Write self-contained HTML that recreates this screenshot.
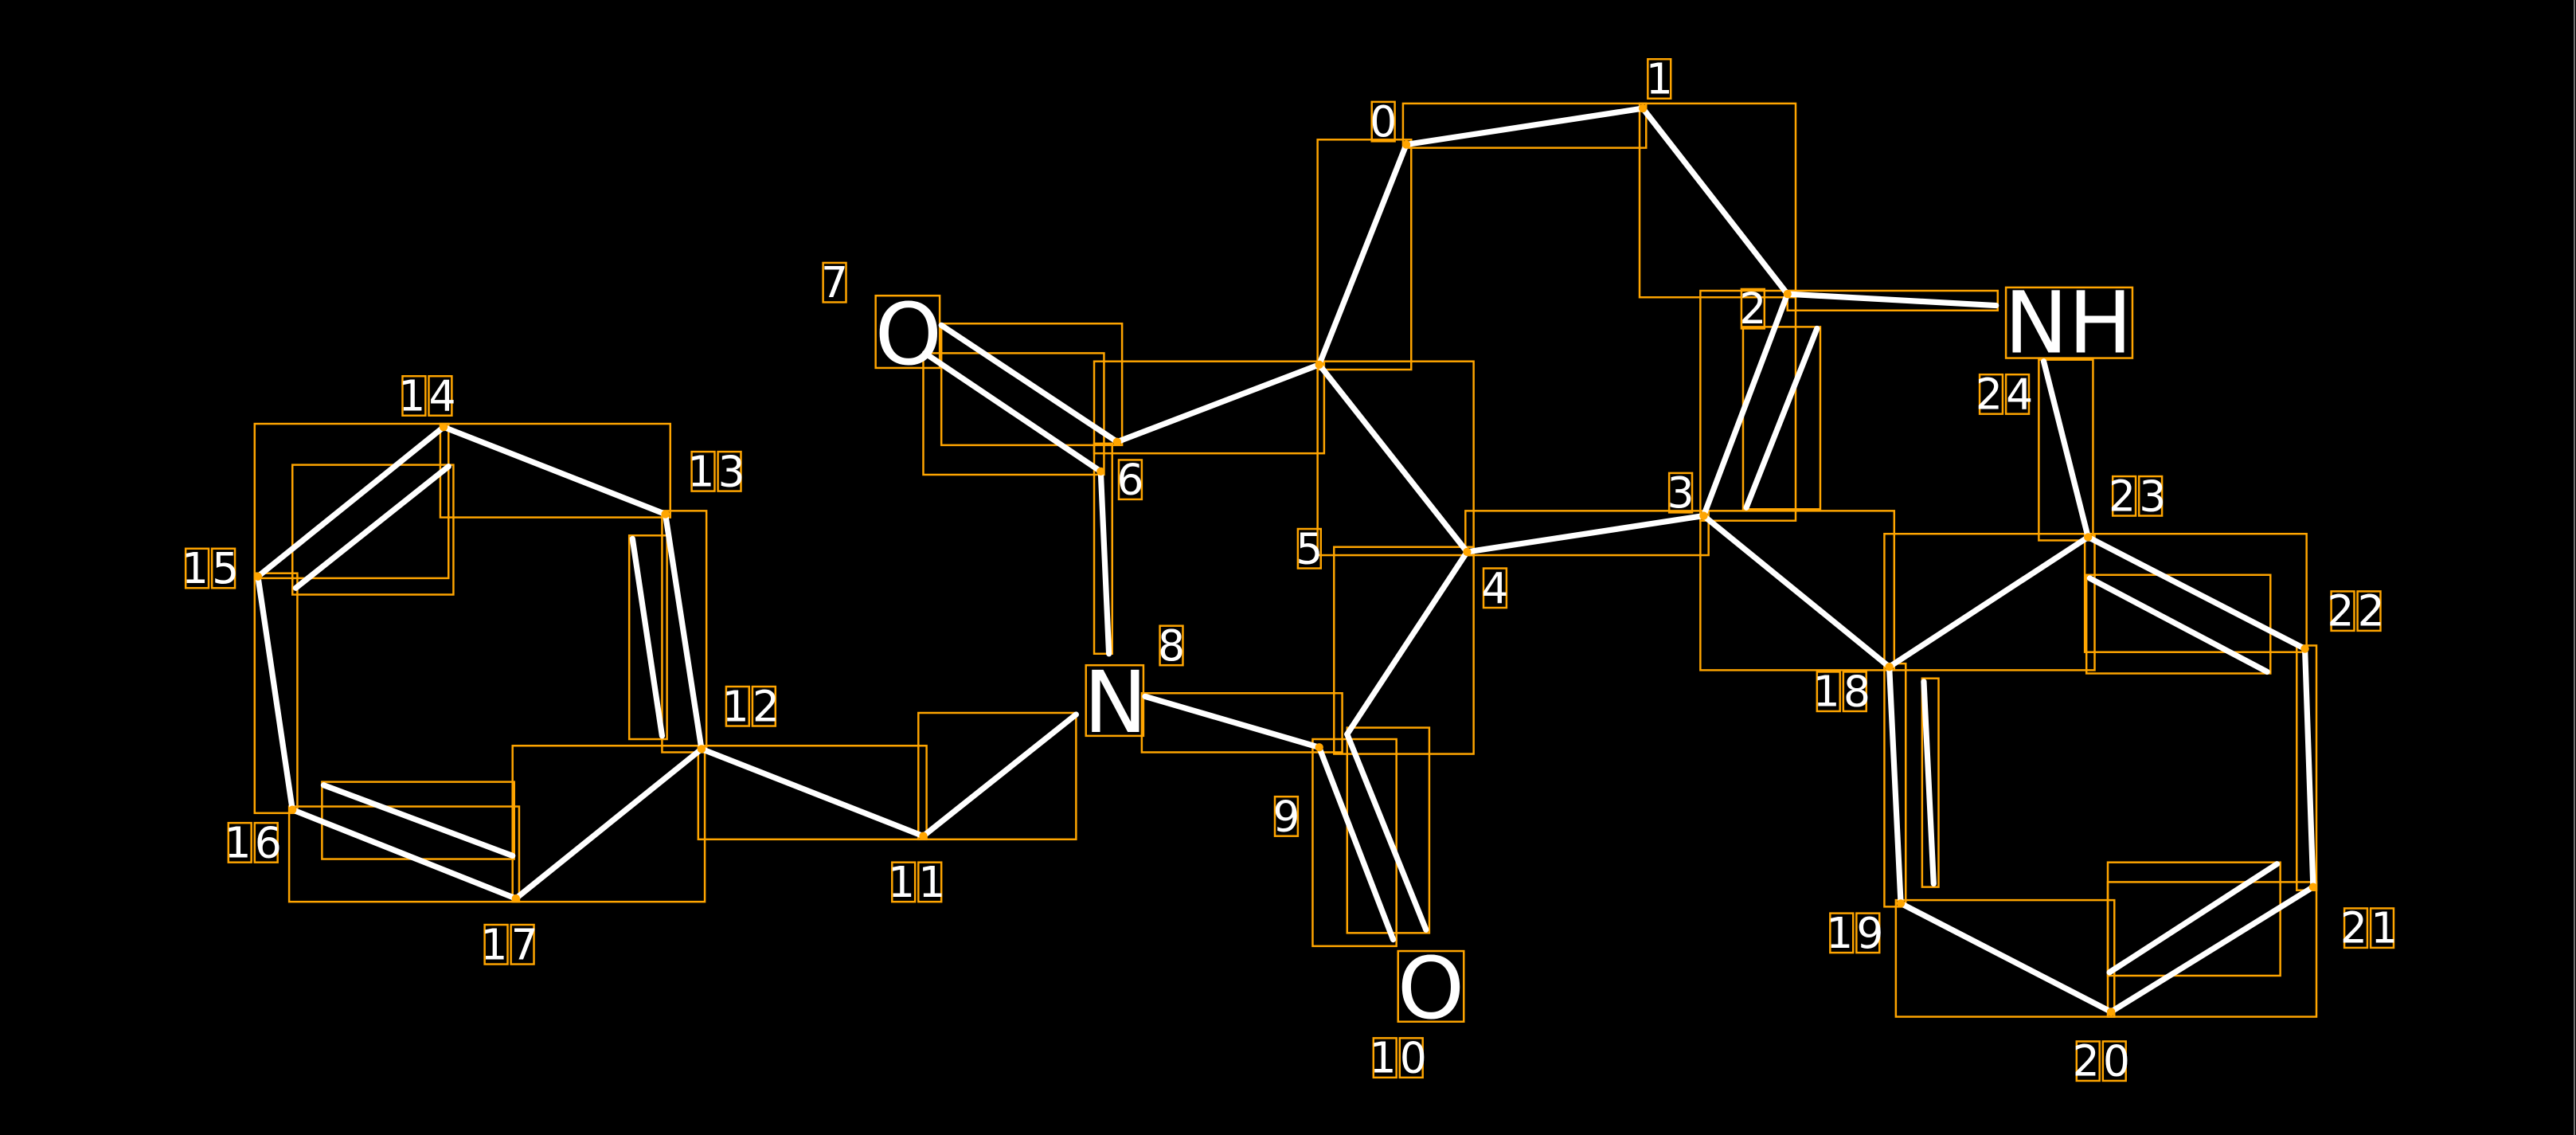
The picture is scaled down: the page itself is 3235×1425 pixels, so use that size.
<!DOCTYPE html>
<html><head><style>html,body{margin:0;padding:0;background:#000;overflow:hidden}svg{display:block}</style></head>
<body>
<svg width="3235" height="1425" viewBox="0 0 1568 691" preserveAspectRatio="none" xmlns="http://www.w3.org/2000/svg">
<rect width="1568" height="691" fill="#000"/>
<line x1="1567" y1="0" x2="1567" y2="691" stroke="#888" stroke-width="0.8"/>
<g fill="none" stroke="#FFA500" stroke-width="1.2">
<rect x="854" y="63" width="148" height="27"/>
<rect x="998" y="63" width="95" height="118"/>
<rect x="802" y="85" width="57" height="140"/>
<rect x="1088" y="177" width="128" height="12"/>
<rect x="1035" y="177" width="58" height="140"/>
<rect x="1061" y="199" width="47" height="111"/>
<rect x="802" y="220" width="95" height="118"/>
<rect x="892" y="311" width="148" height="27"/>
<rect x="666" y="220" width="140" height="56"/>
<rect x="573" y="197" width="110" height="74"/>
<rect x="562" y="215" width="110" height="74"/>
<rect x="666" y="270" width="11" height="128"/>
<rect x="695" y="422" width="122" height="36"/>
<rect x="812" y="333" width="85" height="126"/>
<rect x="799" y="450" width="51" height="126"/>
<rect x="820" y="443" width="50" height="125"/>
<rect x="559" y="434" width="96" height="77"/>
<rect x="425" y="454" width="139" height="57"/>
<rect x="403" y="311" width="27" height="147"/>
<rect x="383" y="326" width="23" height="124"/>
<rect x="268" y="258" width="140" height="57"/>
<rect x="155" y="258" width="118" height="94"/>
<rect x="178" y="283" width="98" height="79"/>
<rect x="155" y="349" width="26" height="146"/>
<rect x="176" y="491" width="140" height="58"/>
<rect x="196" y="476" width="117" height="47"/>
<rect x="312" y="454" width="117" height="95"/>
<rect x="1035" y="311" width="118" height="97"/>
<rect x="1147" y="325" width="128" height="83"/>
<rect x="1241" y="219" width="33" height="110"/>
<rect x="1269" y="325" width="135" height="72"/>
<rect x="1270" y="350" width="112" height="60"/>
<rect x="1398" y="393" width="12" height="149"/>
<rect x="1283" y="525" width="105" height="69"/>
<rect x="1283" y="537" width="127" height="82"/>
<rect x="1154" y="548" width="133" height="71"/>
<rect x="1147" y="404" width="13" height="148"/>
<rect x="1170" y="413" width="10" height="127"/>
<rect x="533" y="180" width="39" height="44"/>
<rect x="661" y="405" width="35" height="43"/>
<rect x="851" y="579" width="40" height="43"/>
<rect x="1221" y="175" width="77" height="43"/>
<!-- digit boxes -->
<rect x="835" y="62" width="14" height="24"/>
<rect x="1003" y="36" width="14" height="24"/>
<rect x="1060" y="176" width="14" height="24"/>
<rect x="1016" y="288" width="14" height="24"/>
<rect x="903" y="346" width="14" height="24"/>
<rect x="790" y="322" width="14" height="24"/>
<rect x="681" y="280" width="14" height="24"/>
<rect x="501" y="160" width="14" height="24"/>
<rect x="706" y="381" width="14" height="24"/>
<rect x="776" y="485" width="14" height="24"/>
<rect x="836" y="632" width="14" height="24"/><rect x="852" y="632" width="14" height="24"/>
<rect x="543" y="525" width="14" height="24"/><rect x="559" y="525" width="14" height="24"/>
<rect x="442" y="418" width="14" height="24"/><rect x="458" y="418" width="14" height="24"/>
<rect x="421" y="275" width="14" height="24"/><rect x="437" y="275" width="14" height="24"/>
<rect x="245" y="229" width="14" height="24"/><rect x="261" y="229" width="14" height="24"/>
<rect x="113" y="334" width="14" height="24"/><rect x="129" y="334" width="14" height="24"/>
<rect x="139" y="501" width="14" height="24"/><rect x="155" y="501" width="14" height="24"/>
<rect x="295" y="563" width="14" height="24"/><rect x="311" y="563" width="14" height="24"/>
<rect x="1106" y="409" width="14" height="24"/><rect x="1122" y="409" width="14" height="24"/>
<rect x="1114" y="556" width="14" height="24"/><rect x="1130" y="556" width="14" height="24"/>
<rect x="1264" y="634" width="14" height="24"/><rect x="1280" y="634" width="14" height="24"/>
<rect x="1427" y="553" width="14" height="24"/><rect x="1443" y="553" width="14" height="24"/>
<rect x="1419" y="360" width="14" height="24"/><rect x="1435" y="360" width="14" height="24"/>
<rect x="1286" y="290" width="14" height="24"/><rect x="1302" y="290" width="14" height="24"/>
<rect x="1205" y="228" width="14" height="24"/><rect x="1221" y="228" width="14" height="24"/>
</g>
<g stroke="#fff" stroke-width="3.5" stroke-linecap="round" fill="none">
<line x1="856" y1="88" x2="1000" y2="66"/>
<line x1="1000" y1="66" x2="1088" y2="179"/>
<line x1="803" y1="222" x2="856" y2="88"/>
<line x1="1088" y1="179" x2="1037" y2="314"/>
<line x1="1106" y1="200" x2="1063" y2="309"/>
<line x1="1088" y1="179" x2="1215" y2="186"/>
<line x1="893" y1="336" x2="803" y2="222"/>
<line x1="1037" y1="314" x2="893" y2="336"/>
<line x1="803" y1="222" x2="680" y2="269"/>
<line x1="573" y1="198" x2="680" y2="269"/>
<line x1="563" y1="215" x2="670" y2="287"/>
<line x1="670" y1="287" x2="675" y2="398"/>
<line x1="697" y1="424" x2="803" y2="455"/>
<line x1="893" y1="336" x2="820" y2="447"/>
<line x1="803" y1="455" x2="848" y2="572"/>
<line x1="820" y1="447" x2="868" y2="566"/>
<line x1="562" y1="509" x2="655" y2="435"/>
<line x1="562" y1="509" x2="427" y2="456"/>
<line x1="427" y1="456" x2="405" y2="313"/>
<line x1="385" y1="328" x2="403" y2="448"/>
<line x1="405" y1="313" x2="270" y2="260"/>
<line x1="270" y1="260" x2="157" y2="351"/>
<line x1="273" y1="284" x2="180" y2="358"/>
<line x1="157" y1="351" x2="178" y2="493"/>
<line x1="178" y1="493" x2="314" y2="547"/>
<line x1="197" y1="478" x2="312" y2="521"/>
<line x1="314" y1="547" x2="427" y2="456"/>
<line x1="1037" y1="314" x2="1150" y2="406"/>
<line x1="1150" y1="406" x2="1271" y2="327"/>
<line x1="1244" y1="220" x2="1271" y2="327"/>
<line x1="1271" y1="327" x2="1403" y2="395"/>
<line x1="1272" y1="352" x2="1380" y2="409"/>
<line x1="1403" y1="395" x2="1408" y2="540"/>
<line x1="1408" y1="540" x2="1285" y2="616"/>
<line x1="1386" y1="526" x2="1284" y2="592"/>
<line x1="1285" y1="616" x2="1157" y2="550"/>
<line x1="1157" y1="550" x2="1150" y2="406"/>
<line x1="1171" y1="415" x2="1177" y2="538"/>
</g>
<g fill="#FFA500">
<circle cx="856" cy="88" r="2.5"/><circle cx="1000" cy="66" r="2.5"/><circle cx="1088" cy="179" r="2.5"/>
<circle cx="1037" cy="314" r="2.5"/><circle cx="893" cy="336" r="2.5"/><circle cx="803" cy="222" r="2.5"/>
<circle cx="680" cy="269" r="2.5"/><circle cx="670" cy="287" r="2.5"/><circle cx="803" cy="455" r="2.5"/>
<circle cx="562" cy="509" r="2.5"/><circle cx="427" cy="456" r="2.5"/><circle cx="405" cy="313" r="2.5"/>
<circle cx="270" cy="260" r="2.5"/><circle cx="157" cy="351" r="2.5"/><circle cx="178" cy="493" r="2.5"/>
<circle cx="314" cy="547" r="2.5"/><circle cx="1150" cy="406" r="2.5"/><circle cx="1271" cy="327" r="2.5"/>
<circle cx="1403" cy="395" r="2.5"/><circle cx="1408" cy="540" r="2.5"/><circle cx="1285" cy="616" r="2.5"/>
<circle cx="1157" cy="550" r="2.5"/>
</g>
<g fill="#fff" font-family="'DejaVu Sans','Liberation Sans',sans-serif" text-anchor="middle" dominant-baseline="central">
<g font-size="52">
<text x="553" y="204">O</text>
<text x="679" y="428">N</text>
<text x="871" y="602">O</text>
<text x="1259" y="197">NH</text>
</g>
<g font-size="26" letter-spacing="2">
<text x="843" y="74">0</text><text x="1011" y="48">1</text><text x="1068" y="188">2</text>
<text x="1024" y="300">3</text><text x="911" y="358">4</text><text x="798" y="334">5</text>
<text x="689" y="292">6</text><text x="509" y="172">7</text><text x="714" y="393">8</text>
<text x="784" y="497">9</text><text x="852" y="644">10</text><text x="559" y="537">11</text>
<text x="458" y="430">12</text><text x="437" y="287">13</text><text x="261" y="241">14</text>
<text x="129" y="346">15</text><text x="155" y="513">16</text><text x="311" y="575">17</text>
<text x="1122" y="421">18</text><text x="1130" y="568">19</text><text x="1280" y="646">20</text>
<text x="1443" y="565">21</text><text x="1435" y="372">22</text><text x="1302" y="302">23</text>
<text x="1221" y="240">24</text>
</g>
</g>
</svg>
</body></html>
